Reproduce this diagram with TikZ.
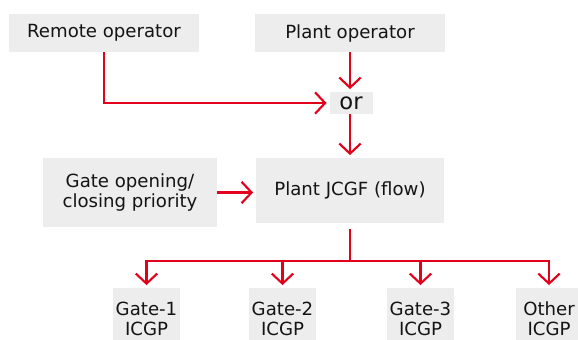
\documentclass[tikz,border=0pt]{standalone}
\usepackage{fontspec}
\setmainfont{DejaVu Sans}
\usetikzlibrary{arrows.meta}
\definecolor{abbred}{RGB}{226,0,26}
\definecolor{boxgray}{RGB}{237,237,237}
\definecolor{txt}{RGB}{20,20,20}
\tikzset{
  box/.style={fill=boxgray, draw=none, inner sep=0pt, text=txt, align=center,
    font=\fontsize{13.6}{15}\selectfont},
  arr/.style={draw=abbred, line width=1.6pt,
    -{Straight Barb[length=7.5pt,width=16pt,line width=1.6pt]}, shorten >=2pt},
  plainline/.style={draw=abbred, line width=1.6pt}
}
\begin{document}
\begin{tikzpicture}[x=0.75pt,y=-0.75pt]
\useasboundingbox (0,0) rectangle (578,339);
\node[box, minimum width=190*0.75pt, minimum height=38*0.75pt] (remote) at (104,33) {Remote operator};
\node[box, minimum width=190*0.75pt, minimum height=38*0.75pt] (plant) at (350,33) {Plant operator};
\node[box, minimum width=43*0.75pt, minimum height=22*0.75pt, font=\fontsize{17}{17}\selectfont] (or) at (351,103) {or};
\node[box, minimum width=174*0.75pt, minimum height=69*0.75pt] (gate) at (130,192.5) {Gate opening/\\closing priority};
\node[box, minimum width=188*0.75pt, minimum height=65*0.75pt] (jcgf) at (350,190.5) {Plant JCGF (flow)};
\node[box, minimum width=67*0.75pt, minimum height=62*0.75pt] (g1) at (146.5,319) {Gate-1\\ICGP};
\node[box, minimum width=67*0.75pt, minimum height=62*0.75pt] (g2) at (282.5,319) {Gate-2\\ICGP};
\node[box, minimum width=67*0.75pt, minimum height=62*0.75pt] (g3) at (420.5,319) {Gate-3\\ICGP};
\node[box, minimum width=66*0.75pt, minimum height=62*0.75pt] (g4) at (549,319) {Other\\ICGP};
\coordinate (hub) at (350,261);
\draw[arr] (plant.south) -- (plant.south |- or.north);
\draw[arr] (remote.south) |- (or.west);
\draw[arr] (plant.south |- or.south) -- (jcgf.north);
\draw[arr] (gate.east) -- (gate.east -| jcgf.west);
\draw[plainline, shorten <=4.5pt] (jcgf.south) -- (hub);
\draw[arr] (hub) -| (g1.north);
\draw[arr] (hub) -| (g2.north);
\draw[arr] (hub) -| (g3.north);
\draw[arr] (hub) -| (g4.north);
\end{tikzpicture}
\end{document}
